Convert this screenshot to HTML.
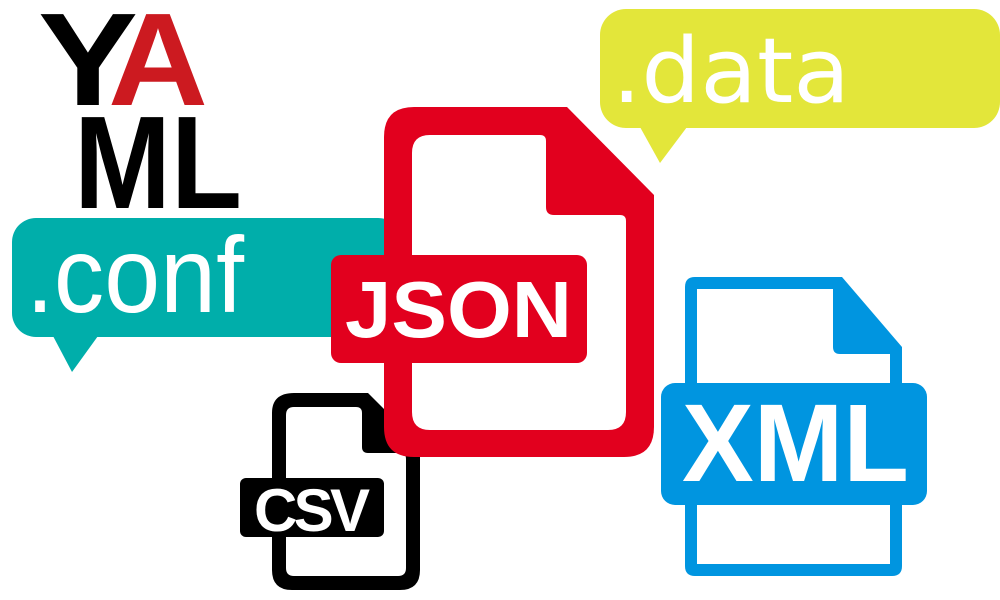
<!DOCTYPE html>
<html><head><meta charset="utf-8"><style>
html,body{margin:0;padding:0;background:#fff;width:1000px;height:600px;overflow:hidden}
svg{display:block}
</style></head><body>
<svg width="1000" height="600" viewBox="0 0 1000 600" xmlns="http://www.w3.org/2000/svg">
<!-- YAML -->
<g font-family="Liberation Sans, sans-serif" font-weight="bold" font-size="132">
<text x="38" y="105" fill="#000" textLength="100" lengthAdjust="spacingAndGlyphs">Y</text>
<text x="108" y="105" fill="#cc1a20" textLength="100" lengthAdjust="spacingAndGlyphs">A</text>
<text x="74" y="208" fill="#000" textLength="168" lengthAdjust="spacingAndGlyphs">ML</text>
</g>
<!-- .data bubble -->
<rect x="600" y="9" width="400" height="119" rx="26" fill="#e3e63a"/>
<polygon points="640,127 687,127 660,163" fill="#e3e63a"/>
<text x="612" y="102" fill="#fff" font-family="DejaVu Sans, sans-serif" font-weight="normal" font-size="90" textLength="238" lengthAdjust="spacingAndGlyphs">.data</text>
<!-- .conf bubble -->
<rect x="12" y="218" width="390" height="119" rx="24" fill="#00aeaa"/>
<polygon points="53,336 98,336 72,372" fill="#00aeaa"/>
<text x="26" y="312" fill="#fff" font-family="Liberation Sans, sans-serif" font-size="108" textLength="218" lengthAdjust="spacingAndGlyphs">.conf</text>
<!-- CSV -->
<path d="M294,393 H368 L420,445 V570 Q420,590 400,590 H292 Q272,590 272,570 V413 Q272,393 294,393 Z" fill="#000"/>
<path d="M294,407 H356 Q362,407 362,413 V447 Q362,453 368,453 H400 Q406,453 406,459 V568 Q406,576 398,576 H294 Q286,576 286,568 V415 Q286,407 294,407 Z" fill="#fff"/>
<rect x="240" y="478" width="144" height="59" rx="6" fill="#000"/>
<text x="254" y="531" fill="#fff" font-family="Liberation Sans, sans-serif" font-weight="bold" font-size="60" textLength="116" lengthAdjust="spacing">CSV</text>
<!-- JSON -->
<path d="M414,107 H567 L654,195 V427 Q654,457 624,457 H414 Q384,457 384,427 V137 Q384,107 414,107 Z" fill="#e2001e"/>
<path d="M430,135 H540 Q546,135 546,141 V207 Q546,215 554,215 H620 Q626,215 626,221 V412 Q626,430 608,430 H430 Q412,430 412,412 V153 Q412,135 430,135 Z" fill="#fff"/>
<rect x="331" y="255" width="256" height="108" rx="10" fill="#e2001e"/>
<text x="345" y="337" fill="#fff" font-family="Liberation Sans, sans-serif" font-weight="bold" font-size="80" textLength="227" lengthAdjust="spacingAndGlyphs">JSON</text>
<!-- XML -->
<path d="M695,277 H842 L902,347 V566 Q902,576 892,576 H695 Q685,576 685,566 V287 Q685,277 695,277 Z" fill="#0095e0"/>
<path d="M697,289 H833 V347 Q833,354 840,354 H890 V564 H697 Z" fill="#fff"/>
<rect x="661" y="383" width="266" height="122" rx="14" fill="#0095e0"/>
<text x="682" y="481" fill="#fff" font-family="Liberation Sans, sans-serif" font-weight="bold" font-size="110" textLength="227" lengthAdjust="spacingAndGlyphs">XML</text>
</svg>
</body></html>
